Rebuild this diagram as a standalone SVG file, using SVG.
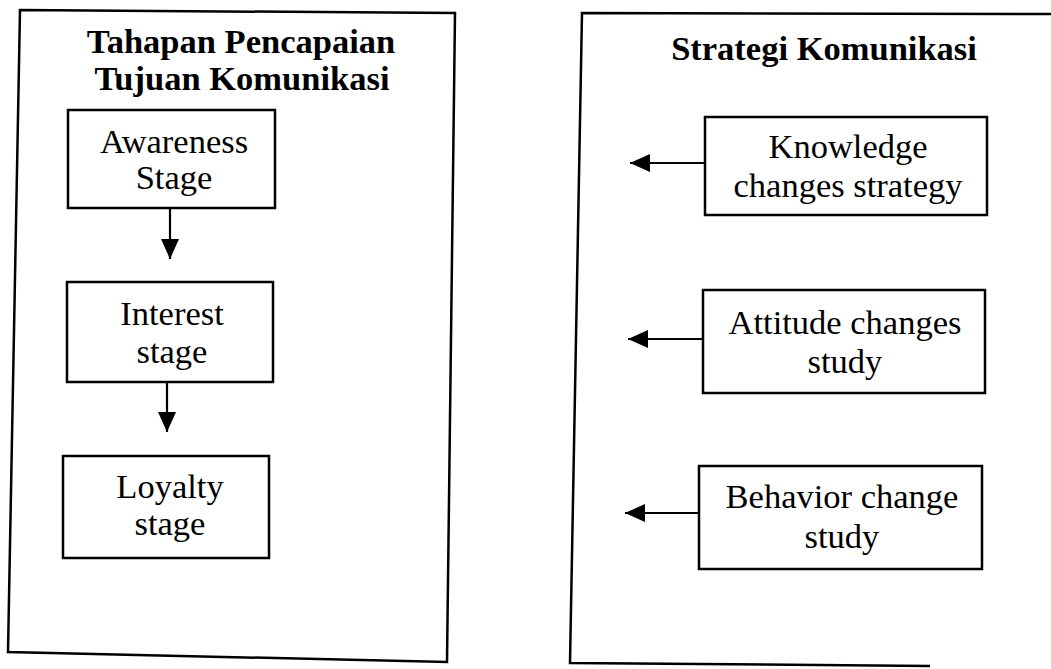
<svg xmlns="http://www.w3.org/2000/svg" width="1051" height="669" viewBox="0 0 1051 669">
  <style>
    .frame { fill: none; stroke: #000; stroke-width: 2.5; stroke-linejoin: miter; }
    .box { fill: #fff; stroke: #000; stroke-width: 2.5; }
    .link { fill: none; stroke: #000; stroke-width: 2.2; }
    .title { font-family: "Liberation Serif", "Times New Roman", serif; font-weight: bold; font-size: 34.5px; fill: #000; text-anchor: middle; }
    .label { font-family: "Liberation Serif", "Times New Roman", serif; font-size: 34.5px; fill: #000; text-anchor: middle; }
  </style>
  <defs>
    <marker id="head" markerUnits="userSpaceOnUse" markerWidth="22" markerHeight="20" refX="20" refY="9" orient="auto">
      <path d="M0,0 L20,9 L0,18 Z" fill="#000"/>
    </marker>
  </defs>

  <rect width="1051" height="669" fill="#fff"/>

  <!-- Left panel: stages of reaching the communication goal -->
  <g id="panel-tahapan">
    <polygon class="frame" points="20,10 455,13 447,662 8,652"/>
    <text class="title" x="241" y="53">Tahapan Pencapaian</text>
    <text class="title" x="242" y="90">Tujuan Komunikasi</text>
  </g>

  <!-- Right panel: communication strategy (open on the right side) -->
  <g id="panel-strategi">
    <polyline class="frame" points="1051,14 582,13 570,663 930,666"/>
    <text class="title" x="824" y="60">Strategi Komunikasi</text>
  </g>

  <g id="awareness">
    <rect class="box" x="68" y="110" width="207" height="98"/>
    <text class="label" x="174" y="153">Awareness</text>
    <text class="label" x="174" y="189">Stage</text>
  </g>

  <g id="interest">
    <rect class="box" x="67" y="282" width="206" height="100"/>
    <text class="label" x="172" y="325">Interest</text>
    <text class="label" x="172" y="363">stage</text>
  </g>

  <g id="loyalty">
    <rect class="box" x="63" y="456" width="206" height="102"/>
    <text class="label" x="170" y="498">Loyalty</text>
    <text class="label" x="170" y="535">stage</text>
  </g>

  <g id="knowledge">
    <rect class="box" x="705" y="117" width="282" height="98"/>
    <text class="label" x="848" y="158">Knowledge</text>
    <text class="label" x="848" y="197">changes strategy</text>
  </g>

  <g id="attitude">
    <rect class="box" x="703" y="290" width="282" height="103"/>
    <text class="label" x="845" y="334">Attitude changes</text>
    <text class="label" x="845" y="373">study</text>
  </g>

  <g id="behavior">
    <rect class="box" x="699" y="466" width="283" height="103"/>
    <text class="label" x="842" y="508">Behavior change</text>
    <text class="label" x="842" y="548">study</text>
  </g>

  <g id="connectors">
    <line class="link" x1="170" y1="208" x2="170" y2="259" marker-end="url(#head)"/>
    <line class="link" x1="167" y1="382" x2="167" y2="432" marker-end="url(#head)"/>
    <line class="link" x1="705" y1="163" x2="630" y2="163" marker-end="url(#head)"/>
    <line class="link" x1="703" y1="339" x2="628" y2="339" marker-end="url(#head)"/>
    <line class="link" x1="699" y1="513" x2="625" y2="513" marker-end="url(#head)"/>
  </g>
</svg>
